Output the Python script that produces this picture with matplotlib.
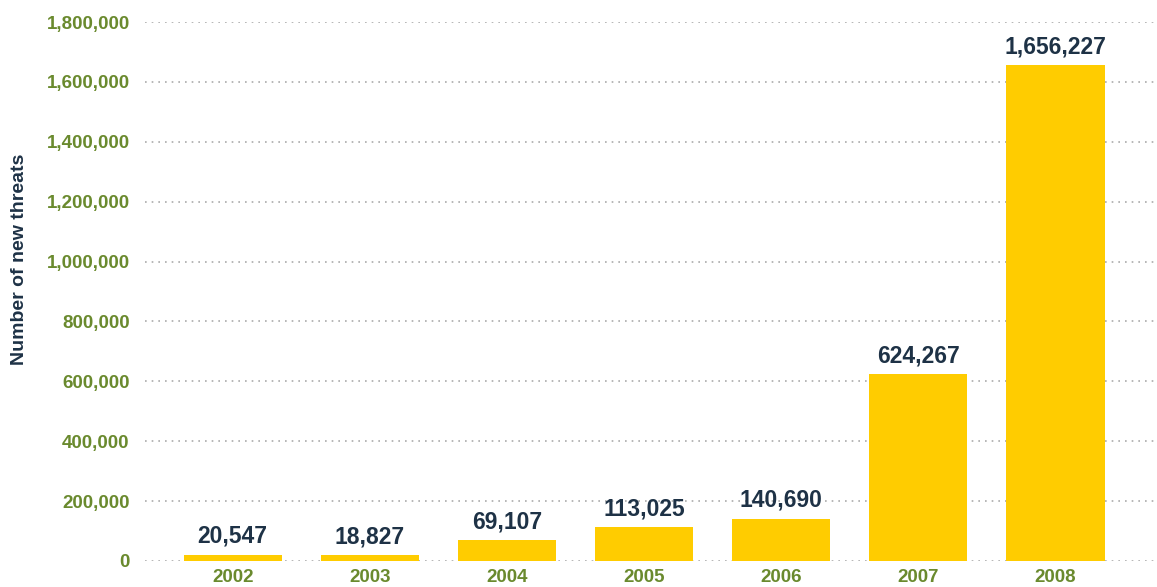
import matplotlib
matplotlib.use("Agg")
import matplotlib.pyplot as plt
import numpy as np

# data
years = ["2002", "2003", "2004", "2005", "2006", "2007", "2008"]
threats = [20547, 18827, 69107, 113025, 140690, 624267, 1656227]
yticks = [0, 200000, 400000, 600000, 800000, 1000000, 1200000, 1400000, 1600000, 1800000]

bar_color = "#FFCC00"
green = "#6A8A2E"
navy = "#1E3246"

plt.rcParams["font.family"] = ["Liberation Sans", "DejaVu Sans"]
plt.rcParams["font.weight"] = "bold"

fig = plt.figure(figsize=(11.57, 5.87), dpi=100)
ax = fig.add_axes([0.1253, 0.0443, 0.8747, 0.9182])

x = np.arange(len(years))
bars = ax.bar(x, threats, width=0.715, color=bar_color, zorder=2)

for xi, v in zip(x, threats):
    ax.annotate("{:,}".format(v), (xi, v), xytext=(0, 5), textcoords="offset points",
                ha="center", va="bottom", fontsize=16.5, fontweight="bold", color=navy)

ax.set_xlim(-0.64, 6.74)
ax.set_ylim(0, 1800000)
ax.set_xticks(x)
ax.set_xticklabels(years)
ax.set_yticks(yticks)
ax.set_yticklabels(["{:,}".format(t) for t in yticks])
ax.tick_params(axis="both", length=0, labelsize=13.5, labelcolor=green)
ax.tick_params(axis="y", pad=11)
ax.tick_params(axis="x", pad=6)

ax.grid(axis="y", linestyle=(0, (1, 3)), color="#AAAAAA", linewidth=1.2, zorder=0)
ax.set_axisbelow(True)
for s in ax.spines.values():
    s.set_visible(False)

# y label sits higher than the axis centre in the original
fig.text(20 / 1157, 1 - 259 / 587, "Number of new threats", rotation=90,
         ha="center", va="center", fontsize=14, fontweight="bold", color=navy)

fig.savefig("out.png", dpi=100)
